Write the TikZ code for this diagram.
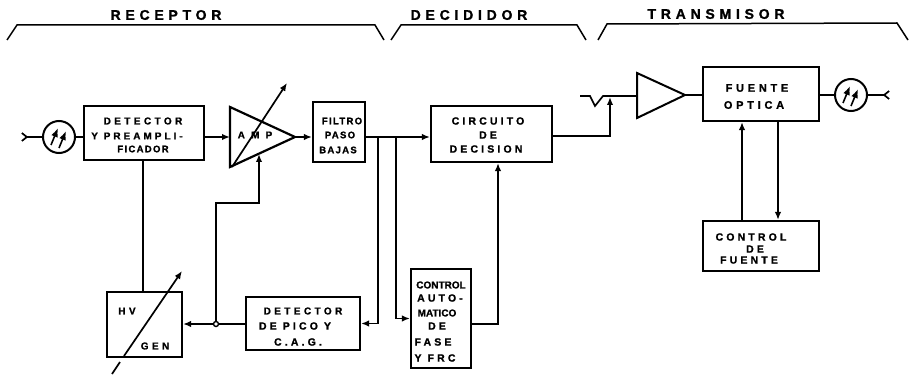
\documentclass[tikz,border=0pt]{standalone}
\usepackage{fontspec}
\setmainfont[BoldFeatures={FakeBold=1.2}]{Liberation Sans}
\newfontfamily\labwide[LetterSpace=34,BoldFeatures={FakeBold=1.2}]{Liberation Sans}
\newfontfamily\labmid[LetterSpace=30,BoldFeatures={FakeBold=1.2}]{Liberation Sans}
\newfontfamily\labfit[LetterSpace=14,BoldFeatures={FakeBold=1.2}]{Liberation Sans}
\usetikzlibrary{arrows.meta,calc}
\tikzset{
  blk/.style={draw=black,line width=2.2pt,rectangle,inner sep=0pt,fill=none},
  wire/.style={draw=black,line width=1.7pt},
  tip/.style={-{Latex[length=8pt,width=6.5pt]}},
  pd/.style={draw=black,line width=2pt,circle,inner sep=0pt,minimum size=32pt},
  jun/.style={draw=black,line width=1.4pt,circle,inner sep=0pt,minimum size=5pt,fill=white},
  lw/.style={inner sep=0pt,font=\labwide\bfseries\fontsize{10}{11}\selectfont},
  lm/.style={inner sep=0pt,font=\labmid\bfseries\fontsize{10.5}{11}\selectfont},
  lf/.style={inner sep=0pt,font=\labfit\bfseries\fontsize{9.5}{10}\selectfont},
  lt/.style={inner sep=0pt,font=\labwide\bfseries\fontsize{11}{12}\selectfont},
  hd/.style={inner sep=0pt,font=\labwide\bfseries\fontsize{14}{15}\selectfont},
  brace/.style={draw=black,line width=1.5pt},
  barb/.style={{Straight Barb[reversed,length=5pt,width=8pt]}-},
  barbend/.style={-{Straight Barb[reversed,length=5pt,width=8pt]}},
}
\begin{document}
\begin{tikzpicture}[x=1pt,y=-1pt]
\useasboundingbox (0,0) rectangle (911,377);
% header brackets
\draw[brace] (7,40) -- (17,25) -- (375,25) -- (384,40);
\draw[brace] (391,40) -- (401,25) -- (577,25) -- (586,40);
\draw[brace] (598,40) -- (607,24) -- (897,23) -- (908,40);
\node[hd] (hr) at (166,15) {RECEPTOR};
\node[hd] (hd) at (469,15) {DECIDIDOR};
\node[hd] (ht) at (716,14) {TRANSMISOR};
% blocks
\node[blk,minimum width=120pt,minimum height=54pt] (det) at (144,133) {};
\node[blk,minimum width=52pt,minimum height=60pt] (fil) at (339,132) {};
\node[blk,minimum width=75pt,minimum height=65pt] (hv) at (144.5,324.5) {};
\node[blk,minimum width=114pt,minimum height=53pt] (pico) at (303,323.5) {};
\node[blk,minimum width=60pt,minimum height=99pt] (caf) at (441,318.5) {};
\node[blk,minimum width=121pt,minimum height=56pt] (cir) at (491.5,134) {};
\node[blk,minimum width=116pt,minimum height=54pt] (fue) at (761,94) {};
\node[blk,minimum width=116pt,minimum height=50pt] (ctl) at (761,246) {};
\node[pd] (pdl) at (59,137) {};
\node[pd] (pdr) at (851,95) {};
\node[jun] (j) at (216,324) {};
% triangles
\coordinate (at) at (230,107); \coordinate (ab) at (230,167); \coordinate (atip) at (295,137);
\draw[line width=2.2pt,line join=miter] (at) -- (atip) -- (ab) -- cycle;
\coordinate (tt) at (637,73); \coordinate (tb) at (637,118); \coordinate (ttip) at (685,95);
\draw[line width=2pt] (tt) -- (ttip) -- (tb) -- cycle;
% photodiode arrows
\foreach \c in {pdl,pdr}{
  \draw[line width=1.6pt,-{Latex[length=9pt,width=7pt]}] ($(\c)+(-8,8)$) -- ($(\c)+(-1,-9)$);
  \draw[line width=1.6pt,-{Latex[length=9pt,width=7pt]}] ($(\c)+(0,11)$) -- ($(\c)+(7,-6)$);
}
% adjustable arrows
\coordinate (a1) at (232,167); \coordinate (a2) at (287,83);
\draw[wire,tip] (a1) -- (a2);
\coordinate (g1) at (112,374); \coordinate (g2) at (120,362); \coordinate (g3) at (124,356); \coordinate (g4) at (182,271);
\draw[wire] (g1) -- (g2);
\draw[wire,tip] (g3) -- (g4);
% connectors: input section
\coordinate (inL) at (21,137);
\draw[wire,barb] (inL) -- (pdl.west);
\draw[wire] (pdl.east) -- (det.west |- pdl.east);
\draw[wire,tip] (det.east |- atip) -- (at |- atip);
\draw[wire,tip] (atip) -- (fil.west |- atip);
\coordinate (busl) at (378,137); \coordinate (busr) at (396,137);
\draw[wire,tip] (fil.east |- busl) -- (cir.west |- busl);
% gain control
\coordinate (c1) at (259,203); \coordinate (c2) at (216,203); \coordinate (c3) at (259,154);
\draw[wire,tip] (j.north) -- (c2) -- (c1) -- (c3);
\draw[wire] (pico.west |- j) -- (j.east);
\draw[wire,tip] (j.west) -- (hv.east |- j);
\coordinate (hvl) at (143,160);
\draw[wire] (hvl) -- (hvl |- hv.north);
\draw[wire,tip] (busl) -- (pico.east -| busl) -- (pico.east);
\draw[wire,tip] (busr) |- (caf.west);
\coordinate (up) at (498,324);
\draw[wire,tip] (caf.east |- up) -- (up) -- (up |- cir.south);
% decision to transmitter
\coordinate (w1) at (580,96); \coordinate (w2) at (590,96); \coordinate (w3) at (595,106); \coordinate (w4) at (603,96);
\coordinate (up2) at (610,136); \coordinate (up3) at (610,97);
\draw[wire] (w1) -- (w2) -- (w3) -- (w4) -- (tt |- w4);
\draw[wire,tip] (cir.east |- up2) -- (up2) -- (up3);
\draw[wire] (ttip) -- (fue.west |- ttip);
\draw[wire] (fue.east |- pdr) -- (pdr.west);
\coordinate (outR) at (890,95);
\draw[wire,barbend] (pdr.east) -- (outR);
\coordinate (cu) at (742,221); \coordinate (cd) at (778,121);
\draw[wire,tip] (cu) -- (cu |- fue.south);
\draw[wire,tip] (cd) -- (cd |- ctl.north);
% labels
\node[lw] (t1) at (143,121) {DETECTOR};
\node[inner sep=0pt,font=\labmid\bfseries\fontsize{10}{11}\selectfont] (t2) at (137,136) {Y PREAMPLI-};
\node[lf] (t3) at (143,149) {FICADOR};
\node[lw] (t4) at (255,135) {A M P};
\node[lf] (t5) at (342,121) {FILTRO};
\node[lf] (t6) at (340,135) {PASO};
\node[lf] (t7) at (338,150) {BAJAS};
\node[lw] (t8) at (127,311) {HV};
\node[lw] (t9) at (155,346) {GEN};
\node[lw] (t10) at (303,311) {DETECTOR};
\node[lm] (t11) at (295,326) {DE PICO Y};
\node[lm] (t12) at (298,342) {C.A.G.};
\node[lm] (t13) at (488,121) {CIRCUITO};
\node[lm] (t14) at (488,135) {DE};
\node[lm] (t15) at (486,149) {DECISION};
\node[lt] (t16) at (757,88) {FUENTE};
\node[lt] (t17) at (754,105) {OPTICA};
\node[lm] (t18) at (751,237) {CONTROL};
\node[lm] (t19) at (755,249) {DE};
\node[lm] (t20) at (749,260) {FUENTE};
\node[inner sep=0pt,font=\bfseries\fontsize{10}{11}\selectfont] (t21) at (441,285) {CONTROL};
\node[lm] (t22) at (440,298) {AUTO-};
\node[inner sep=0pt,font=\bfseries\fontsize{10}{11}\selectfont] (t23) at (437,313) {MATICO};
\node[lm] (t24) at (437,326) {DE};
\node[lm] (t25) at (433,342) {FASE};
\node[lm] (t26) at (435,358) {Y FRC};
\end{tikzpicture}
\end{document}
